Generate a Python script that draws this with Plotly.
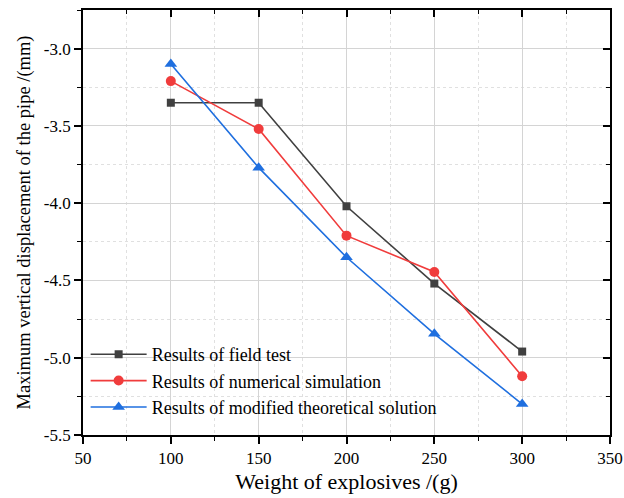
import plotly.graph_objects as go

weights = [100, 150, 200, 250, 300]
field_test = [-3.35, -3.35, -4.02, -4.52, -4.96]
numerical = [-3.21, -3.52, -4.21, -4.445, -5.12]
theoretical = [-3.10, -3.77, -4.35, -4.845, -5.30]

x_ticks = [50, 100, 150, 200, 250, 300, 350]
x_tick_text = ["50", "100", "150", "200", "250", "300", "350"]
y_ticks = [-5.5, -5.0, -4.5, -4.0, -3.5, -3.0]
y_tick_text = ["-5.5", "-5.0", "-4.5", "-4.0", "-3.5", "-3.0"]

FONT = "Liberation Serif"

fig = go.Figure()
series = [
    ("Results of field test", field_test, "#404040", "square", 8),
    ("Results of numerical simulation", numerical, "#f03c3c", "circle", 10),
    ("Results of modified theoretical solution", theoretical, "#1f6fdf", "triangle-up", 11),
]
for name, vals, col, sym, sz in series:
    fig.add_trace(go.Scatter(
        x=weights, y=vals, name=name, mode="lines+markers",
        line=dict(color=col, width=1.6),
        marker=dict(color=col, symbol=sym, size=sz),
    ))

xr = [50, 350]
yr = [-5.5, -2.75]
grid_major = "#d4d4d4"
grid_minor = "#e0e0e0"

fig.update_layout(
    width=624, height=498,
    margin=dict(l=83, r=14, t=10, b=63, autoexpand=False),
    paper_bgcolor="white", plot_bgcolor="white",
    font=dict(family=FONT, color="black"),
    showlegend=True,
    legend=dict(
        x=0.005, y=0.233, xanchor="left", yanchor="top",
        bgcolor="rgba(0,0,0,0)", borderwidth=0,
        font=dict(family=FONT, size=18, color="black"),
        tracegroupgap=0, itemwidth=56,
    ),
    xaxis=dict(
        range=xr, tickvals=x_ticks, ticktext=x_tick_text, automargin=False,
        showline=True, linecolor="black", linewidth=1.8,
        ticks="outside", ticklen=7, tickwidth=1.5, tickcolor="black",
        tickfont=dict(family=FONT, size=17),
        showgrid=True, gridcolor=grid_major, gridwidth=1,
        zeroline=False,
        minor=dict(dtick=25, ticks="outside", ticklen=4, tickwidth=1.2, tickcolor="black",
                   showgrid=True, gridcolor=grid_minor, griddash="dot", gridwidth=1),
        title=dict(text="Weight of explosives /(g)", font=dict(family=FONT, size=22), standoff=6),
    ),
    yaxis=dict(
        range=yr, tickvals=y_ticks, ticktext=y_tick_text, automargin=False,
        showline=True, linecolor="black", linewidth=1.8,
        ticks="outside", ticklen=7, tickwidth=1.5, tickcolor="black",
        tickfont=dict(family=FONT, size=17),
        showgrid=True, gridcolor=grid_major, gridwidth=1,
        zeroline=False,
        minor=dict(dtick=0.25, tick0=-5.5, ticks="outside", ticklen=4, tickwidth=1.2, tickcolor="black",
                   showgrid=True, gridcolor=grid_minor, griddash="dot", gridwidth=1),
        title=dict(text="Maximum vertical displacement of the pipe /(mm)",
                   font=dict(family=FONT, size=18.5), standoff=8),
    ),
    xaxis2=dict(
        overlaying="x", side="top", range=xr, tickvals=x_ticks, showticklabels=False, automargin=False,
        showline=True, linecolor="black", linewidth=1.8,
        ticks="inside", ticklen=7, tickwidth=1.5, tickcolor="black",
        showgrid=False, zeroline=False,
        minor=dict(dtick=25, ticks="inside", ticklen=4, tickwidth=1.2, tickcolor="black", showgrid=False),
    ),
    yaxis2=dict(
        overlaying="y", side="right", range=yr, tickvals=y_ticks, showticklabels=False, automargin=False,
        showline=True, linecolor="black", linewidth=1.8,
        ticks="inside", ticklen=7, tickwidth=1.5, tickcolor="black",
        showgrid=False, zeroline=False,
        minor=dict(dtick=0.25, tick0=-5.5, ticks="inside", ticklen=4, tickwidth=1.2, tickcolor="black", showgrid=False),
    ),
)
# invisible helper trace so the mirrored axes are drawn
fig.add_trace(go.Scatter(x=[weights[0]], y=[field_test[0]], xaxis="x2", yaxis="y2",
                         mode="markers", marker=dict(opacity=0), showlegend=False, hoverinfo="skip"))

fig.write_html("out.html")
